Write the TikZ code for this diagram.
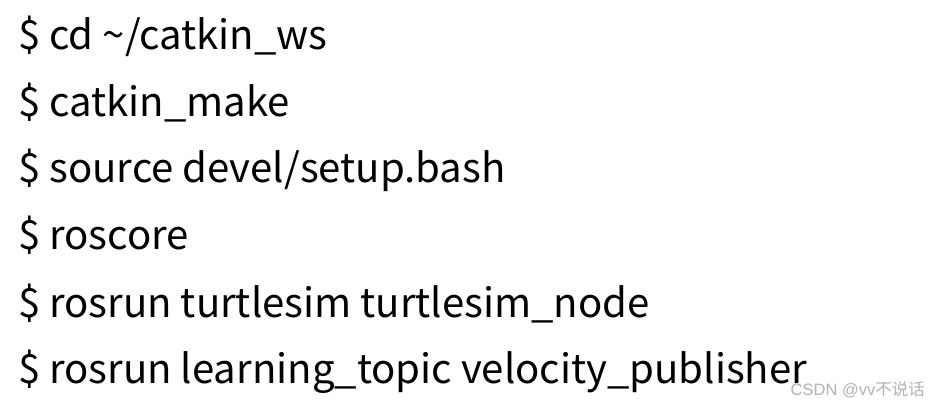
\documentclass[tikz,border=0pt]{standalone}
\usepackage{fontspec}
\setmainfont{Noto Sans CJK SC}
\newfontfamily\wmlatin{Liberation Sans}
\newfontfamily\wmcjk{Noto Sans CJK SC}
\begin{document}
\begin{tikzpicture}[x=1pt,y=1pt,
  cmd/.style={anchor=base west,inner sep=0pt,font=\fontsize{40.1}{48}\selectfont},
  wm/.style={anchor=base east,inner sep=0pt,text=black!30,font=\fontsize{16.5}{19}\selectfont}]
\useasboundingbox[fill=white] (0,0) rectangle (929,-403);
\node[cmd] (l1) at (18,-50) {\$ cd \string~/catkin\_ws};
\node[cmd] (l2) at (18,-117) {\$ catkin\_make};
\node[cmd] (l3) at (18,-183) {\$ source devel/setup.bash};
\node[cmd] (l4) at (18,-250) {\$ roscore};
\node[cmd] (l5) at (18,-317) {\$ rosrun turtlesim turtlesim\_node};
\node[cmd] (l6) at (18,-383) {\$ rosrun learning\_topic velocity\_publisher};
\node[wm] (w) at (925,-395) {{\wmlatin CSDN @vv}{\wmcjk 不说话}};
\end{tikzpicture}
\end{document}
